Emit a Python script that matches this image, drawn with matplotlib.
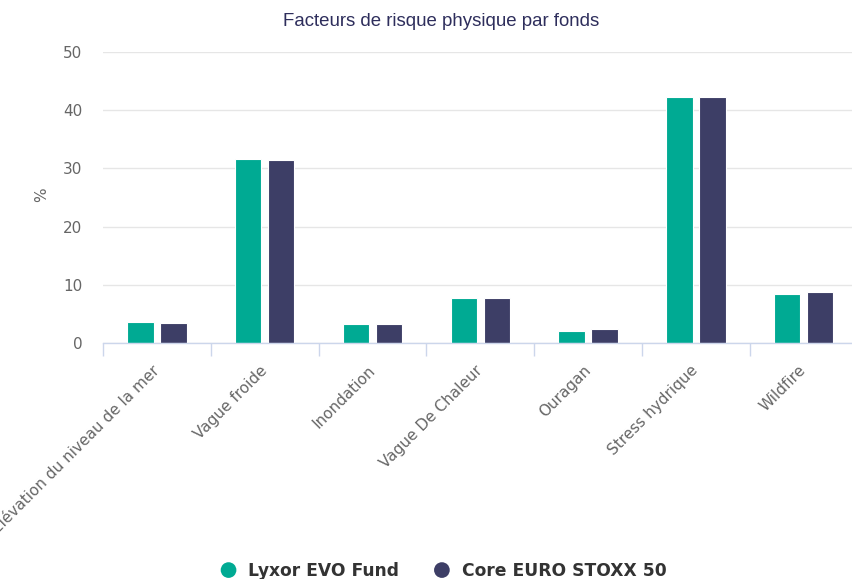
import matplotlib
matplotlib.use("Agg")
import matplotlib.pyplot as plt
import numpy as np
from matplotlib.patches import Circle, Rectangle
from matplotlib.legend_handler import HandlerPatch

categories = ["Élévation du niveau de la mer", "Vague froide", "Inondation",
              "Vague De Chaleur", "Ouragan", "Stress hydrique", "Wildfire"]
lyxor = [3.55, 31.6, 3.3, 7.7, 2.05, 42.3, 8.45]
core = [3.5, 31.4, 3.3, 7.7, 2.35, 42.3, 8.75]
series_names = ["Lyxor EVO Fund", "Core EURO STOXX 50"]
colors = ["#00aa93", "#3d3e66"]
yticks = [0, 10, 20, 30, 40, 50]

fig = plt.figure(figsize=(8.52, 5.79), dpi=100)
ax = fig.add_axes([103/852, 1-343/579, 754.6/852, 291/579])

x = np.arange(len(categories))
off = 0.153
w = 0.245
b1 = ax.bar(x - off, lyxor, w, color=colors[0], edgecolor="white", linewidth=0.8, zorder=3, label=series_names[0])
b2 = ax.bar(x + off, core, w, color=colors[1], edgecolor="white", linewidth=0.8, zorder=3, label=series_names[1])

ax.set_xlim(-0.5, len(categories) - 0.5)
ax.set_ylim(0, 50)
ax.set_yticks(yticks)
ax.set_yticklabels([str(v) for v in yticks], fontfamily="DejaVu Sans", fontsize=11, color="#666666")
ax.tick_params(axis="y", length=0, pad=15)
ax.yaxis.grid(True, color="#e6e6e6", linewidth=1, zorder=0)
for s in ["top", "right", "left"]:
    ax.spines[s].set_visible(False)
ax.spines["bottom"].set_color("#ccd6eb")
ax.spines["bottom"].set_linewidth(1)
ax.spines["bottom"].set_zorder(4)

ax.set_xticks(x)
ax.set_xticks(np.arange(-0.5, len(categories), 1.0), minor=True)
ax.tick_params(axis="x", which="major", length=0, pad=18)
ax.tick_params(axis="x", which="minor", length=9, color="#ccd6eb", width=1)
ax.set_xticklabels(categories, rotation=45, ha="right", va="center", rotation_mode="anchor",
                   fontfamily="DejaVu Sans", fontsize=11, color="#666666")

fig.text(42/852, 1-195/579, "%", rotation=90, ha="center", va="center",
         fontfamily="DejaVu Sans", fontsize=11, color="#666666")

fig.text(441/852, 1-21/579, "Facteurs de risque physique par fonds", ha="center", va="center",
         fontfamily="Liberation Sans", fontsize=13.4, color="#2e2e5c")


class CircleHandler(HandlerPatch):
    def create_artists(self, legend, orig_handle, xdescent, ydescent, width, height, fontsize, trans):
        r = min(width, height) / 2 * 1.2
        c = Circle((width / 2 - xdescent, height / 2 - ydescent), r)
        self.update_prop(c, orig_handle, legend)
        c.set_edgecolor("none")
        c.set_transform(trans)
        return [c]


leg = fig.legend(handles=[b1.patches[0], b2.patches[0]], labels=series_names, loc="center",
                 bbox_to_anchor=(444/852, 1-571/579), ncol=2, frameon=False,
                 handlelength=0.8, handleheight=0.8, handletextpad=0.75, columnspacing=2.1,
                 handler_map={Rectangle: CircleHandler()},
                 prop={"family": "DejaVu Sans", "weight": "bold", "size": 12.3})
for t in leg.get_texts():
    t.set_color("#333333")

fig.savefig("out.png", dpi=100)
